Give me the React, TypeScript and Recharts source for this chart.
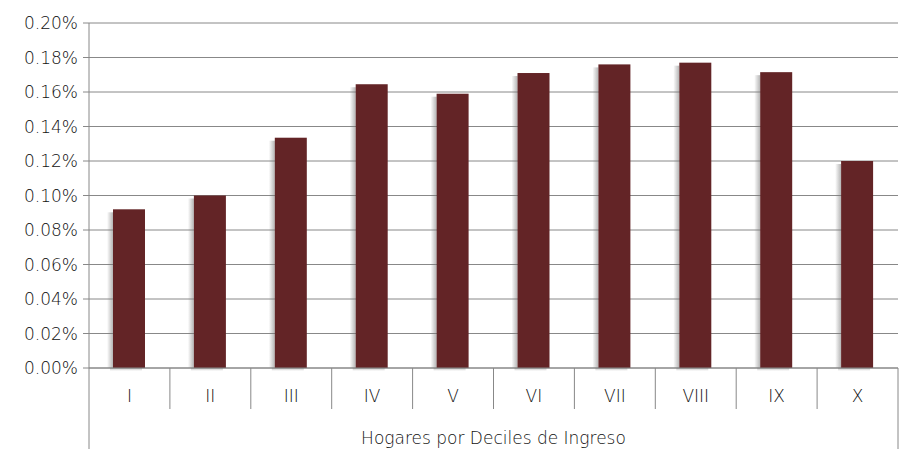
import React from 'react';
import { BarChart, Bar, XAxis, YAxis, CartesianGrid } from 'recharts';

const deciles = ['I', 'II', 'III', 'IV', 'V', 'VI', 'VII', 'VIII', 'IX', 'X'];
const shares = [0.092, 0.1, 0.1335, 0.1645, 0.159, 0.171, 0.176, 0.177, 0.1715, 0.12];
const yTicks = [0, 0.02, 0.04, 0.06, 0.08, 0.1, 0.12, 0.14, 0.16, 0.18, 0.2];
const axisTitle = 'Hogares por Deciles de Ingreso';

const data = deciles.map((d, i) => ({ decil: d, valor: shares[i] }));

const W = 922;
const H = 461;
const LEFT = 89;
const RIGHT = 24;
const TOP = 23;
const BOTTOM = 93;
const BAND = (W - LEFT - RIGHT) / deciles.length;
const GRAY = '#888888';
const FONT = '"DejaVu Sans", sans-serif';

const DecilTick = (props: any) => {
    const { x, y, payload, index } = props;
    const left = x - BAND / 2;
    const right = x + BAND / 2;
    const last = index === deciles.length - 1;
    return (
        <g>
            {index === 0 && <line x1={left} x2={left} y1={y} y2={y + 81} stroke={GRAY} />}
            <line x1={right} x2={right} y1={y} y2={y + (last ? 81 : 41)} stroke={GRAY} />
            <text x={x} y={y + 34} textAnchor="middle" fontSize={17} fontWeight={200} fill="#111" fontFamily={FONT}>
                {payload.value}
            </text>
        </g>
    );
};

// soft shadow to the left of each bar, drawn by hand
const ShadowBar = (props: any) => {
    const { x, y, width, height, fill } = props;
    if (!height || height <= 0) return null;
    return (
        <g>
            <defs>
                <linearGradient id="sombraIzq" x1="0" y1="0" x2="1" y2="0">
                    <stop offset="0%" stopColor="#777" stopOpacity={0} />
                    <stop offset="100%" stopColor="#777" stopOpacity={0.55} />
                </linearGradient>
                <linearGradient id="sombraAbajo" x1="0" y1="0" x2="0" y2="1">
                    <stop offset="0%" stopColor="#777" stopOpacity={0.45} />
                    <stop offset="100%" stopColor="#777" stopOpacity={0} />
                </linearGradient>
            </defs>
            <rect x={x - 6} y={y + 3} width={6} height={height - 3} fill="url(#sombraIzq)" />
            <rect x={x - 3} y={y + height} width={width} height={3} fill="url(#sombraAbajo)" />
            <rect x={x} y={y} width={width} height={height} fill={fill} />
        </g>
    );
};

export default function App() {
    return (
        <div style={{ position: 'absolute', left: 0, top: 0, background: '#fff' }}>
            <BarChart width={W} height={H} data={data} margin={{ top: TOP, right: RIGHT, bottom: 0, left: 0 }} barSize={32}>
                <CartesianGrid vertical={false} stroke={GRAY} strokeWidth={1} />
                <XAxis
                    dataKey="decil"
                    height={BOTTOM}
                    axisLine={{ stroke: GRAY }}
                    tickLine={false}
                    tickSize={0}
                    tickMargin={0}
                    interval={0}
                    tick={<DecilTick />}
                    label={{
                        value: axisTitle,
                        position: 'insideBottom',
                        offset: 17,
                        fontSize: 17,
                        fontWeight: 200,
                        fill: '#111',
                        fontFamily: FONT,
                    }}
                />
                <YAxis
                    width={LEFT}
                    domain={[0, 0.2]}
                    ticks={yTicks}
                    interval={0}
                    axisLine={{ stroke: GRAY }}
                    tickLine={{ stroke: GRAY }}
                    tickSize={6}
                    tickMargin={5}
                    tickFormatter={(v: number) => v.toFixed(2) + '%'}
                    tick={{ fontSize: 17, fontWeight: 200, fill: '#111', fontFamily: FONT }}
                />
                <Bar dataKey="valor" fill="#632426" shape={<ShadowBar />} isAnimationActive={false} />
            </BarChart>
        </div>
    );
}
